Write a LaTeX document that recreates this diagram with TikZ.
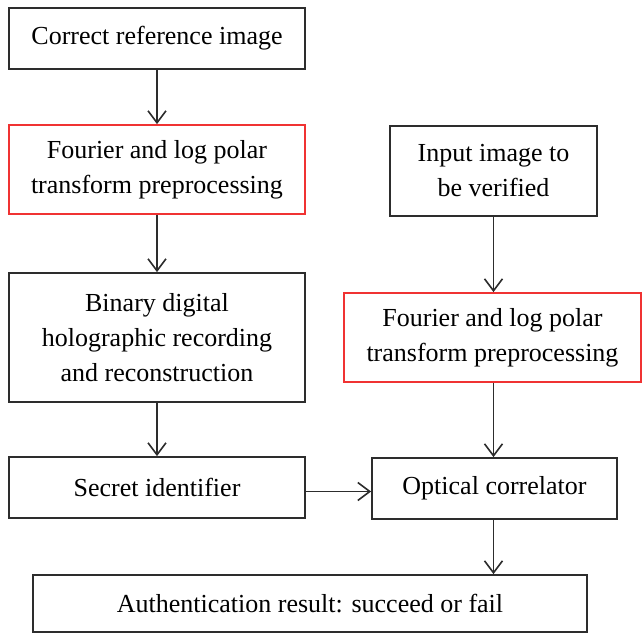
\documentclass[tikz,border=0pt]{standalone}
\usepackage{fontspec}
\setmainfont{Liberation Serif}
\usetikzlibrary{arrows.meta}
\definecolor{boxgray}{RGB}{45,45,45}
\definecolor{boxred}{RGB}{240,50,50}
\tikzset{
  flowbox/.style={draw=boxgray, line width=1.7pt, rectangle, inner sep=0pt, align=center,
    font=\fontsize{26}{35}\selectfont, text=black},
  redbox/.style={flowbox, draw=boxred},
  flowarrow/.style={draw=boxgray, line width=1.6pt, -{Straight Barb[length=12pt,width=18pt,line width=1.6pt]}}
}
\begin{document}
\begin{tikzpicture}[x=1pt,y=-1pt]
\useasboundingbox (0,0) rectangle (643,633);
\fill[white] (0,0) rectangle (643,633);
\node[flowbox, minimum width=296pt, minimum height=61pt] (n1) at (157,38.5) {Correct reference image};
\node[redbox, minimum width=296pt, minimum height=89pt] (n2) at (157,169.5) {Fourier and log polar\\transform preprocessing};
\node[flowbox, minimum width=207pt, minimum height=90pt] (n3) at (493.5,171) {Input image to\\be verified};
\node[flowbox, minimum width=296pt, minimum height=129pt] (n4) at (157,337.5) {Binary digital\\holographic recording\\and reconstruction};
\node[redbox, minimum width=297pt, minimum height=89pt] (n5) at (492.5,337.5) {Fourier and log polar\\transform preprocessing};
\node[flowbox, minimum width=296pt, minimum height=61pt] (n6) at (157,487.5) {Secret identifier};
\node[flowbox, minimum width=245pt, minimum height=61pt] (n7) at (494.5,488.5) {Optical correlator};
\node[flowbox, minimum width=554pt, minimum height=57pt] (n8) at (310,603.5) {Authentication result: succeed or fail};
\draw[flowarrow] (n1.south) -- (n2.north);
\draw[flowarrow] (n2.south) -- (n4.north);
\draw[flowarrow] (n4.south) -- (n6.north);
\draw[flowarrow] (n3.south) -- (n3.south |- n5.north);
\draw[flowarrow] (n5.south -| n3.south) -- (n3.south |- n7.north);
\draw[flowarrow] ([yshift=-4pt]n6.east) -- ([yshift=-4pt]n6.east -| n7.west);
\draw[flowarrow] (n3.south |- n7.south) -- (n3.south |- n8.north);
\end{tikzpicture}
\end{document}
